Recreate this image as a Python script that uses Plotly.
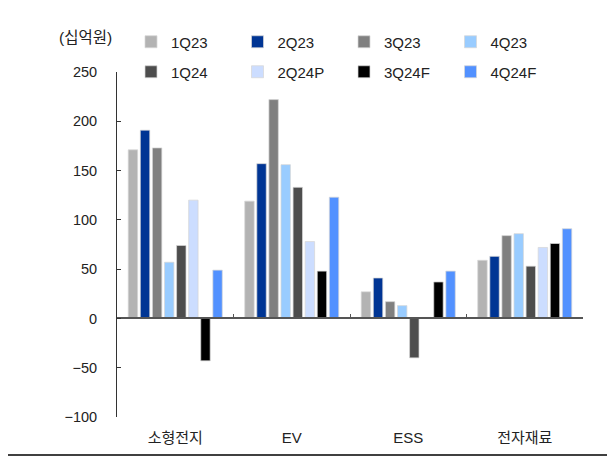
import plotly.graph_objects as go

categories = ["소형전지", "EV", "ESS", "전자재료"]
series_names = ["1Q23", "2Q23", "3Q23", "4Q23", "1Q24", "2Q24P", "3Q24F", "4Q24F"]
v_1Q23 = [171, 119, 27, 59]
v_2Q23 = [191, 157, 41, 63]
v_3Q23 = [173, 222, 17, 84]
v_4Q23 = [57, 156, 13, 86]
v_1Q24 = [74, 133, -40, 53]
v_2Q24P = [120, 78, 1, 72]
v_3Q24F = [-43, 48, 37, 76]
v_4Q24F = [49, 123, 48, 91]
series_values = [v_1Q23, v_2Q23, v_3Q23, v_4Q23, v_1Q24, v_2Q24P, v_3Q24F, v_4Q24F]
colors = ["#B3B3B3", "#003594", "#808080", "#99CCFF", "#4D4D4D", "#CCDDFF", "#000000", "#5291FF"]
y_ticks = [250, 200, 150, 100, 50, 0, -50, -100]

FONT = "Liberation Sans, Noto Sans CJK KR, sans-serif"

# page body has an 8px margin; the figure is sized so it ends at the window edge
OFF = 8
W, H = 615 - OFF, 458 - OFF

fig = go.Figure()
for i, (name, vals, c) in enumerate(zip(series_names, series_values, colors)):
    fig.add_trace(go.Bar(
        x=categories, y=vals, name=name,
        legend="legend" if i < 4 else "legend2",
        marker=dict(color=c, line=dict(color="rgba(215,215,215,0.9)", width=0.8)),
    ))

# invisible trace to create the overlay axis at y=0
fig.add_trace(go.Scatter(x=[0], y=[0], xaxis="x2", mode="markers",
                         marker=dict(opacity=0), showlegend=False, hoverinfo="skip"))

legend_common = dict(
    orientation="h", xref="container", yref="container",
    x=(131 - OFF) / W, xanchor="left", yanchor="middle",
    entrywidth=61.5, entrywidthmode="pixels",
    font=dict(size=15), itemwidth=30,
    bgcolor="rgba(0,0,0,0)",
)

fig.update_layout(
    width=W, height=H,
    margin=dict(l=117 - OFF, r=32, t=72 - OFF, b=41, autoexpand=False),
    paper_bgcolor="white", plot_bgcolor="white",
    font=dict(family=FONT, size=14, color="#222222"),
    barmode="group", bargap=0.17, bargroupgap=0.22,
    xaxis=dict(
        type="category", categoryorder="array", categoryarray=categories,
        showline=False, showgrid=False, ticks="", zeroline=False,
        ticklabelstandoff=10, tickfont=dict(size=15),
    ),
    xaxis2=dict(
        overlaying="x", anchor="free", position=100 / 350,
        range=[-0.5, 3.5], tickmode="array", tickvals=[0.5, 1.5, 2.5, 3.5],
        ticks="inside", ticklen=4, tickcolor="#555555", tickwidth=1.2,
        showticklabels=False, showline=True, linecolor="#555555", linewidth=1.5,
        showgrid=False, zeroline=False,
    ),
    yaxis=dict(
        range=[-100, 250], tickmode="array", tickvals=y_ticks,
        ticks="inside", ticklen=4, tickcolor="#333333", tickwidth=1,
        showline=True, linecolor="#333333", linewidth=1,
        showgrid=False, zeroline=False, ticklabelstandoff=16,
        tickfont=dict(size=14.5),
    ),
    legend=dict(legend_common, y=1 - (42 - OFF) / H),
    legend2=dict(legend_common, y=1 - (72 - OFF) / H),
    annotations=[dict(
        text="(십억원)", xref="paper", yref="paper",
        x=(85 - 117) / 466, y=1 + 35 / 345, xanchor="center", yanchor="middle",
        showarrow=False, font=dict(size=15.5),
    )],
    shapes=[dict(
        type="line", xref="paper", yref="paper",
        x0=(5 - 117) / 466, x1=(612 - 117) / 466,
        y0=-38 / 345, y1=-38 / 345,
        line=dict(color="#404040", width=2),
    )],
)

fig.write_html("out.html")
